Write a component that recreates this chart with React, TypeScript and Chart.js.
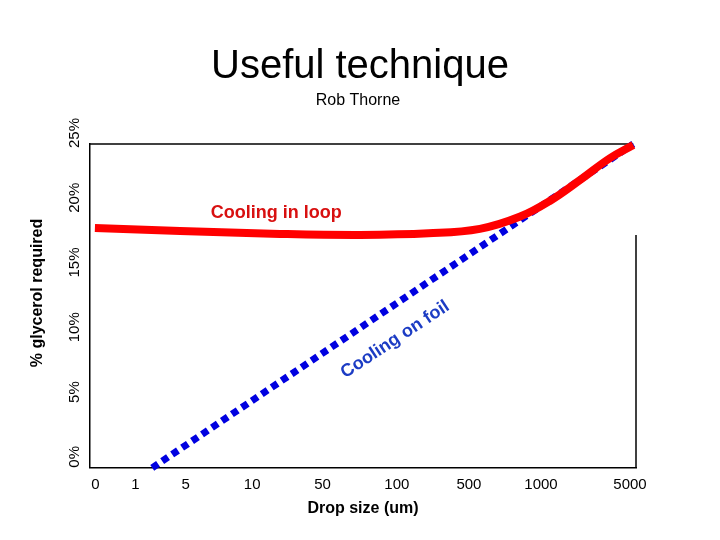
import React, { useEffect, useRef } from "react";
import { Chart, registerables } from "chart.js";

Chart.register(...registerables);

const FONT = "'Liberation Sans', Arial, Helvetica, sans-serif";

const titleText = "Useful technique";
const subtitleText = "Rob Thorne";
const xAxisTitle = "Drop size (um)";
const yAxisTitle = "% glycerol required";

// x tick labels and their positions on the (uneven) drop-size axis
const xTickLabels = ["0", "1", "5", "10", "50", "100", "500", "1000", "5000"];
const xTickPos = [1.0, 8.3, 17.5, 29.7, 42.6, 56.2, 69.4, 82.6, 98.9];

// Cooling in loop (red)
const loopX = [0.9, 16.5, 34.8, 49.5, 62.0, 71.4, 78.8, 84.2, 90.0, 95.2, 99.5];
const loopY = [18.52, 18.29, 18.06, 17.98, 18.1, 18.45, 19.4, 20.6, 22.3, 23.9, 24.92];

// Cooling on foil (blue)
const foilX = [11.4, 99.5];
const foilY = [0, 25];

// annotation anchors (data units)
const loopLabel = { text: "Cooling in loop", x: 34.1, y: 19.68 };
const foilLabel = { text: "Cooling on foil", x: 55.9, y: 9.9, angle: -33.4 };

const frameTopEnd = 99.5;
const frameRightStart = 17.98;

const decor = {
  id: "decor",
  beforeDatasetsDraw(chart: any) {
    const { ctx, chartArea, scales } = chart;
    const { left, right, top, bottom } = chartArea;
    ctx.save();
    ctx.strokeStyle = "#000";
    ctx.lineWidth = 1.5;
    ctx.beginPath();
    ctx.moveTo(left, top);
    ctx.lineTo(scales.x.getPixelForValue(frameTopEnd), top);
    ctx.stroke();
    ctx.beginPath();
    ctx.moveTo(right, scales.y.getPixelForValue(frameRightStart));
    ctx.lineTo(right, bottom);
    ctx.stroke();
    ctx.restore();
  },
  afterDraw(chart: any) {
    const { ctx, scales } = chart;
    const { x, y } = scales;
    ctx.save();
    // title
    ctx.fillStyle = "#000";
    ctx.textAlign = "center";
    ctx.textBaseline = "alphabetic";
    ctx.font = `40px ${FONT}`;
    ctx.fillText(titleText, 360, 78);
    ctx.font = `16px ${FONT}`;
    ctx.fillText(subtitleText, 358, 105);

    // y tick labels, rotated
    ctx.font = `15px ${FONT}`;
    ctx.textBaseline = "middle";
    for (const t of y.ticks) {
      const py = y.getPixelForValue(t.value) - 11;
      ctx.save();
      ctx.translate(75, py);
      ctx.rotate(-Math.PI / 2);
      ctx.fillText(`${t.value}%`, 0, 0);
      ctx.restore();
    }
    // y title
    ctx.font = `bold 16px ${FONT}`;
    ctx.save();
    ctx.translate(38, 293);
    ctx.rotate(-Math.PI / 2);
    ctx.fillText(yAxisTitle, 0, 0);
    ctx.restore();

    // annotations
    ctx.font = `bold 18px ${FONT}`;
    ctx.fillStyle = "#d81010";
    ctx.fillText(loopLabel.text, x.getPixelForValue(loopLabel.x), y.getPixelForValue(loopLabel.y));
    ctx.fillStyle = "#1c3cc4";
    ctx.save();
    ctx.translate(x.getPixelForValue(foilLabel.x), y.getPixelForValue(foilLabel.y));
    ctx.rotate((foilLabel.angle * Math.PI) / 180);
    ctx.fillText(foilLabel.text, 0, 0);
    ctx.restore();
    ctx.restore();
  },
};

export default function App() {
  const ref = useRef<HTMLCanvasElement>(null);
  useEffect(() => {
    if (!ref.current) return;
    const chart = new Chart(ref.current, {
      type: "line",
      data: {
        datasets: [
          {
            label: "Cooling in loop",
            data: loopX.map((v, i) => ({ x: v, y: loopY[i] })),
            borderColor: "#ff0000",
            borderWidth: 8,
            pointRadius: 0,
            tension: 0.4,
            borderCapStyle: "butt",
            clip: false,
            order: 0,
          },
          {
            label: "Cooling on foil",
            data: foilX.map((v, i) => ({ x: v, y: foilY[i] })),
            borderColor: "#0000e0",
            borderWidth: 7,
            borderDash: [7, 5],
            pointRadius: 0,
            clip: false,
            order: 1,
          },
        ],
      },
      options: {
        animation: false,
        responsive: false,
        devicePixelRatio: 1,
        layout: { padding: { left: 90, top: 144, right: 84, bottom: 15 } },
        plugins: { legend: { display: false }, tooltip: { enabled: false }, title: { display: false } },
        scales: {
          x: {
            type: "linear",
            min: 0,
            max: 100,
            grid: { display: false, drawTicks: false },
            border: { display: true, color: "#000", width: 1.5 },
            afterBuildTicks: (s: any) => {
              s.ticks = xTickPos.map((v) => ({ value: v }));
            },
            ticks: {
              autoSkip: false,
              maxRotation: 0,
              minRotation: 0,
              padding: 8,
              color: "#000",
              font: { size: 15, family: FONT },
              callback: (_v: any, i: number) => xTickLabels[i],
            },
            title: {
              display: true,
              text: xAxisTitle,
              color: "#000",
              font: { size: 16, weight: "bold", family: FONT },
              padding: { top: -3, bottom: 7 },
            },
          },
          y: {
            type: "linear",
            min: 0,
            max: 25,
            grid: { display: false, drawTicks: false, tickLength: 0 },
            border: { display: true, color: "#000", width: 1.5 },
            ticks: { display: false, stepSize: 5 },
          },
        },
      },
      plugins: [decor],
    } as any);
    return () => chart.destroy();
  }, []);
  return (
    <div style={{ position: "fixed", left: 0, top: 0, width: 720, height: 540, background: "#fff" }}>
      <canvas ref={ref} width={720} height={540} style={{ display: "block" }} />
    </div>
  );
}
